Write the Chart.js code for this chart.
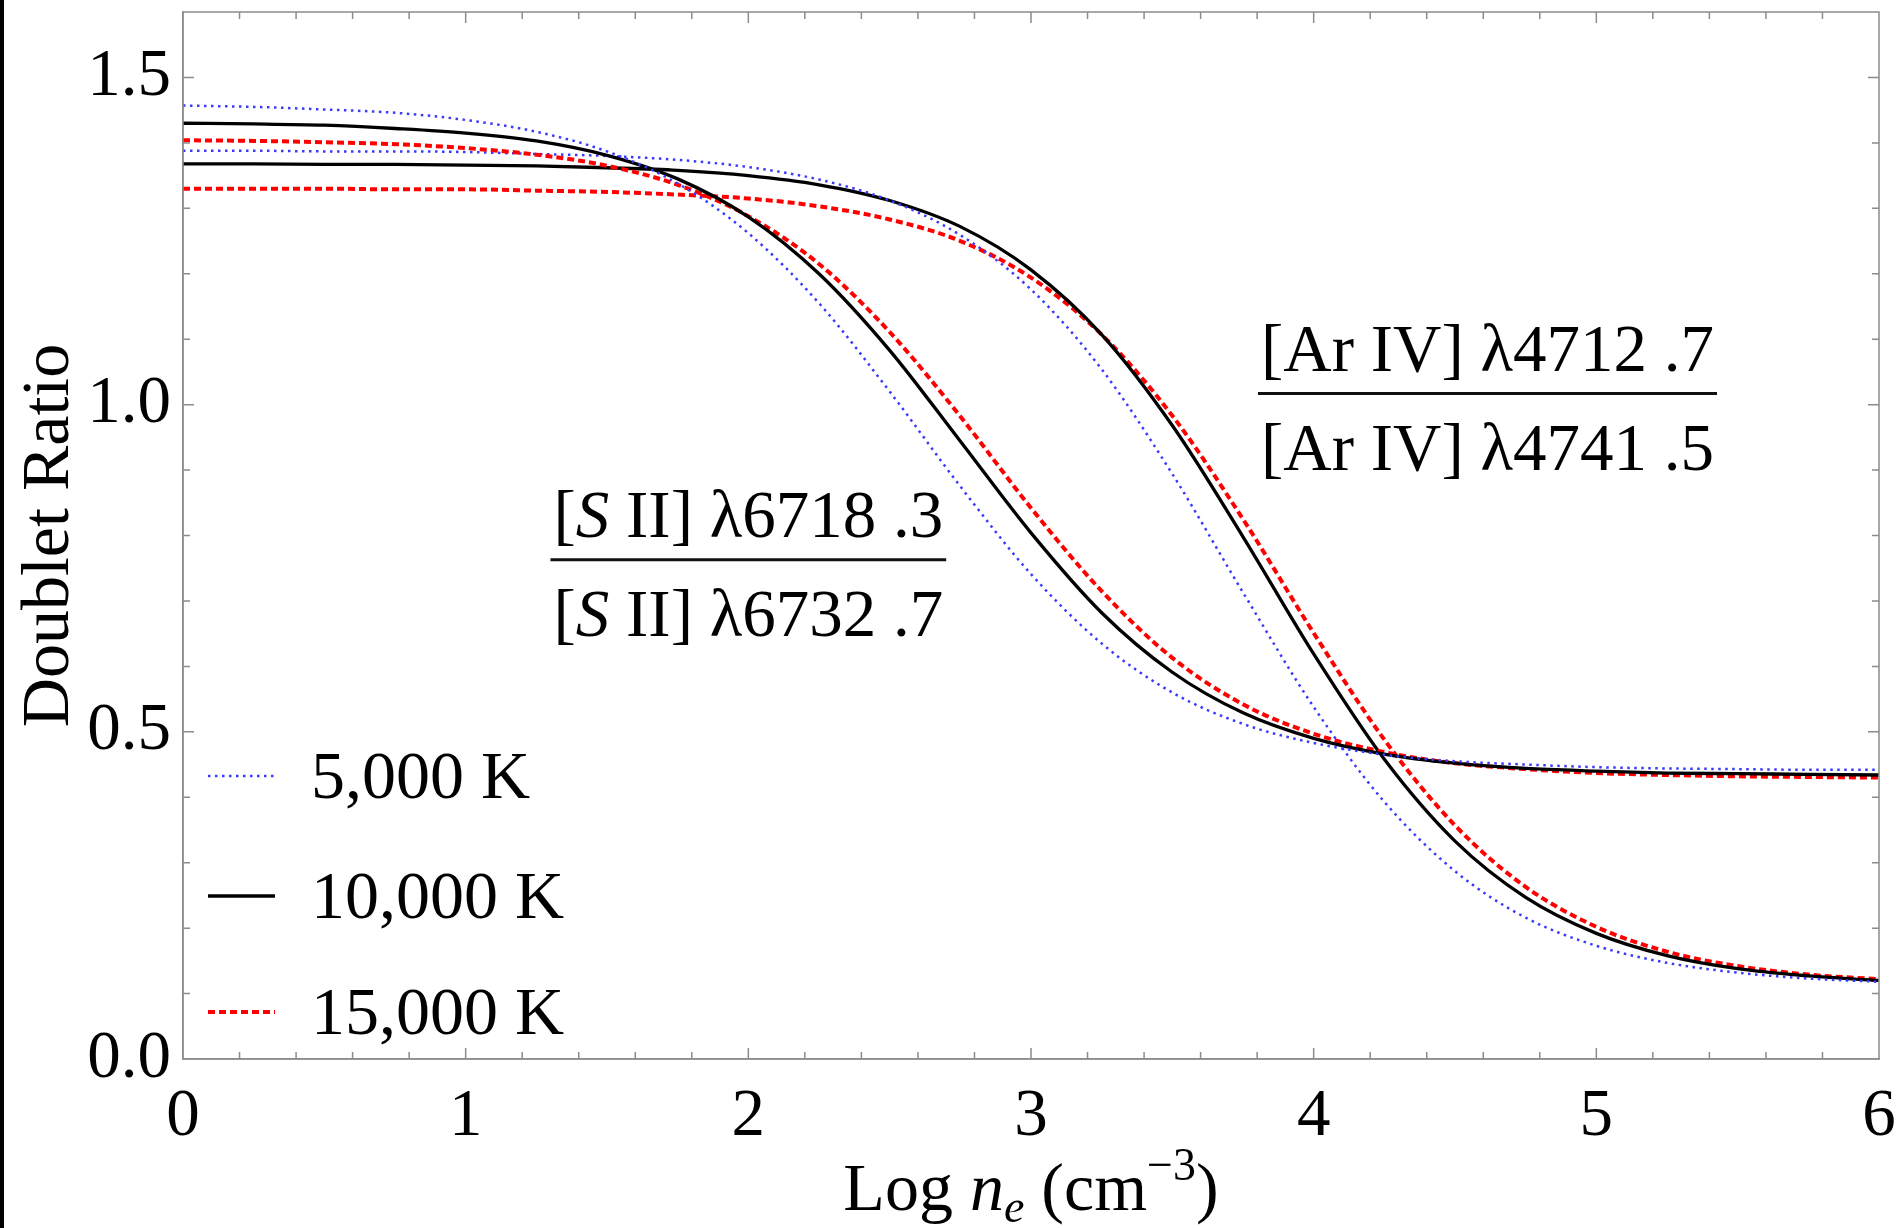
<!DOCTYPE html>
<html>
<head>
<meta charset="utf-8">
<title>Doublet Ratio</title>
<script src="https://cdn.jsdelivr.net/npm/chart.js@4.4.1/dist/chart.umd.min.js"></script>
<style>
  html, body { margin: 0; padding: 0; background: #fff; }
  #wrap { width: 1898px; height: 1228px; position: relative; }
</style>
</head>
<body>
<div id="wrap"><canvas id="ratioChart"></canvas></div>
<script>
// log electron density (cm^-3)
const logNe = [0, 0.25, 0.5, 0.75, 1, 1.25, 1.5, 1.75, 2, 2.25, 2.5, 2.75, 3,
               3.25, 3.5, 3.75, 4, 4.25, 4.5, 4.75, 5, 5.25, 5.5, 5.75, 6];

// [S II] 6718/6732
const sii5000  = [1.457, 1.455, 1.451, 1.446, 1.435, 1.417, 1.387, 1.338, 1.262, 1.155, 1.02, 0.875, 0.741,
                  0.635, 0.56, 0.512, 0.483, 0.465, 0.455, 0.45, 0.446, 0.444, 0.443, 0.442, 0.442];
const sii10000 = [1.43, 1.429, 1.427, 1.422, 1.415, 1.403, 1.381, 1.345, 1.287, 1.2, 1.083, 0.944, 0.804,
                  0.682, 0.591, 0.529, 0.49, 0.466, 0.452, 0.444, 0.44, 0.437, 0.436, 0.435, 0.434];
const sii15000 = [1.404, 1.403, 1.401, 1.398, 1.392, 1.382, 1.365, 1.336, 1.288, 1.215, 1.111, 0.982, 0.842,
                  0.715, 0.613, 0.542, 0.497, 0.469, 0.452, 0.443, 0.437, 0.434, 0.432, 0.431, 0.43];

// [Ar IV] 4712/4741
const ariv5000  = [1.388, 1.388, 1.387, 1.387, 1.386, 1.383, 1.38, 1.374, 1.363, 1.344, 1.312, 1.259, 1.176,
                   1.054, 0.894, 0.713, 0.538, 0.393, 0.287, 0.216, 0.173, 0.147, 0.132, 0.123, 0.118];
const ariv10000 = [1.368, 1.368, 1.367, 1.367, 1.366, 1.365, 1.362, 1.358, 1.35, 1.336, 1.312, 1.272, 1.206,
                   1.107, 0.968, 0.798, 0.619, 0.458, 0.333, 0.247, 0.192, 0.158, 0.138, 0.127, 0.12];
const ariv15000 = [1.33, 1.33, 1.33, 1.329, 1.329, 1.327, 1.325, 1.321, 1.315, 1.303, 1.283, 1.25, 1.194,
                   1.107, 0.983, 0.825, 0.651, 0.488, 0.357, 0.263, 0.202, 0.164, 0.142, 0.129, 0.122];

const tempLabels = ["5,000 K", "10,000 K", "15,000 K"];
const yTickLabels = ["0.0", "0.5", "1.0", "1.5"];

const serif = "'Liberation Serif', 'Times New Roman', serif";

const styles = [
  { color: "#3a3aff", width: 2.5, dash: [2.5, 4.5] },
  { color: "#000000", width: 3.3, dash: [] },
  { color: "#ff0000", width: 4, dash: [7, 4] },
];

function line(label, values, st) {
  return {
    label: label,
    data: logNe.map((x, i) => ({ x: x, y: values[i] })),
    borderColor: st.color,
    backgroundColor: st.color,
    borderWidth: st.width,
    borderDash: st.dash,
    pointRadius: 0,
    cubicInterpolationMode: "monotone",
    fill: false,
  };
}

const datasets = [
  line(tempLabels[0], sii5000, styles[0]),
  line(tempLabels[1], sii10000, styles[1]),
  line(tempLabels[2], sii15000, styles[2]),
  line(tempLabels[0], ariv5000, styles[0]),
  line(tempLabels[1], ariv10000, styles[1]),
  line(tempLabels[2], ariv15000, styles[2]),
];

// draw text made of pieces with different styles, centered on cx
function drawRich(ctx, parts, cx, baseY) {
  let total = 0;
  for (const p of parts) {
    ctx.font = (p.italic ? "italic " : "") + p.size + "px " + serif;
    p.w = ctx.measureText(p.t).width;
    total += p.w;
  }
  let x = cx - total / 2;
  ctx.textAlign = "left";
  ctx.textBaseline = "alphabetic";
  for (const p of parts) {
    ctx.font = (p.italic ? "italic " : "") + p.size + "px " + serif;
    ctx.fillText(p.t, x, baseY + (p.dy || 0));
    x += p.w;
  }
  return total;
}

const decorations = {
  id: "decorations",
  beforeDraw(chart) {
    const ctx = chart.ctx;
    ctx.save();
    ctx.fillStyle = "#000";
    ctx.fillRect(0, 0, 4, chart.height);
    ctx.restore();
  },
  afterDraw(chart) {
    const { ctx, chartArea: a, scales: { x, y } } = chart;
    ctx.save();

    // frame and inward ticks
    ctx.strokeStyle = "#8c8c8c";
    ctx.lineWidth = 1.5;
    ctx.strokeRect(a.left, a.top, a.right - a.left, a.bottom - a.top);
    ctx.beginPath();
    for (let i = 1; i < 30; i++) {
      const px = x.getPixelForValue(i * 0.2);
      const len = i % 5 === 0 ? 11 : 7;
      ctx.moveTo(px, a.bottom); ctx.lineTo(px, a.bottom - len);
      ctx.moveTo(px, a.top); ctx.lineTo(px, a.top + len);
    }
    for (let i = 1; i <= 15; i++) {
      const py = y.getPixelForValue(i * 0.1);
      const len = i % 5 === 0 ? 11 : 7;
      ctx.moveTo(a.left, py); ctx.lineTo(a.left + len, py);
      ctx.moveTo(a.right, py); ctx.lineTo(a.right - len, py);
    }
    ctx.stroke();

    ctx.fillStyle = "#000";

    // axis titles
    drawRich(ctx, [
      { t: "Log ", size: 68 },
      { t: "n", size: 68, italic: true },
      { t: "e", size: 46, italic: true, dy: 12 },
      { t: " (cm", size: 68 },
      { t: "\u22123", size: 46, dy: -30 },
      { t: ")", size: 68 },
    ], (a.left + a.right) / 2, 1210);

    ctx.save();
    ctx.translate(68, (a.top + a.bottom) / 2);
    ctx.rotate(-Math.PI / 2);
    drawRich(ctx, [{ t: "Doublet Ratio", size: 68 }], 0, 0);
    ctx.restore();

    // legend
    const rows = [a.bottom - 283, a.bottom - 163, a.bottom - 47];
    rows.forEach((ry, i) => {
      const st = styles[i];
      ctx.strokeStyle = st.color;
      ctx.lineWidth = st.width;
      ctx.setLineDash(st.dash);
      ctx.beginPath();
      ctx.moveTo(a.left + 25, ry);
      ctx.lineTo(a.left + 92, ry);
      ctx.stroke();
      ctx.setLineDash([]);
      ctx.font = "68px " + serif;
      ctx.textAlign = "left";
      ctx.textBaseline = "alphabetic";
      ctx.fillText(tempLabels[i], a.left + 128, ry + 22);
    });

    // ratio labels
    function fraction(num, den, vx, vy) {
      const cx = x.getPixelForValue(vx);
      const cy = y.getPixelForValue(vy);
      const w1 = drawRich(ctx, num, cx, cy - 23);
      const w2 = drawRich(ctx, den, cx, cy + 76);
      const w = Math.max(w1, w2) + 6;
      ctx.strokeStyle = "#111";
      ctx.lineWidth = 3;
      ctx.beginPath();
      ctx.moveTo(cx - w / 2, cy);
      ctx.lineTo(cx + w / 2, cy);
      ctx.stroke();
    }
    fraction(
      [{ t: "[", size: 67 }, { t: "S", size: 67, italic: true }, { t: " II] \u03bb6718 .3", size: 67 }],
      [{ t: "[", size: 67 }, { t: "S", size: 67, italic: true }, { t: " II] \u03bb6732 .7", size: 67 }],
      2.0, 0.763);
    fraction(
      [{ t: "[Ar IV] \u03bb4712 .7", size: 67 }],
      [{ t: "[Ar IV] \u03bb4741 .5", size: 67 }],
      4.615, 1.017);

    ctx.restore();
  },
};

const config = {
  type: "line",
  data: { datasets: datasets },
  options: {
    responsive: true,
    maintainAspectRatio: false,
    animation: false,
    devicePixelRatio: 1,
    layout: { padding: { left: 0, top: 12, right: 19, bottom: 0 } },
    plugins: {
      legend: { display: false },
      title: { display: false },
      tooltip: { enabled: false },
    },
    scales: {
      x: {
        type: "linear",
        min: 0,
        max: 6,
        grid: { display: false },
        border: { display: true, color: "#8c8c8c", width: 1.5 },
        ticks: {
          stepSize: 1,
          padding: 10,
          color: "#000",
          font: { family: serif, size: 67 },
          maxRotation: 0,
        },
        afterFit: (s) => { s.height = 169; s.paddingLeft = 0; s.paddingRight = 0; },
      },
      y: {
        type: "linear",
        min: 0,
        max: 1.6,
        grid: { display: false },
        border: { display: true, color: "#8c8c8c", width: 1.5 },
        ticks: {
          stepSize: 0.5,
          includeBounds: false,
          padding: 4,
          color: "#000",
          font: { family: serif, size: 67 },
          callback: (v) => yTickLabels[Math.round(v / 0.5)],
        },
        afterFit: (s) => { s.width = 183; s.paddingTop = 0; s.paddingBottom = 0; },
      },
    },
  },
  plugins: [decorations],
};

new Chart(document.getElementById("ratioChart"), config);
</script>
</body>
</html>
